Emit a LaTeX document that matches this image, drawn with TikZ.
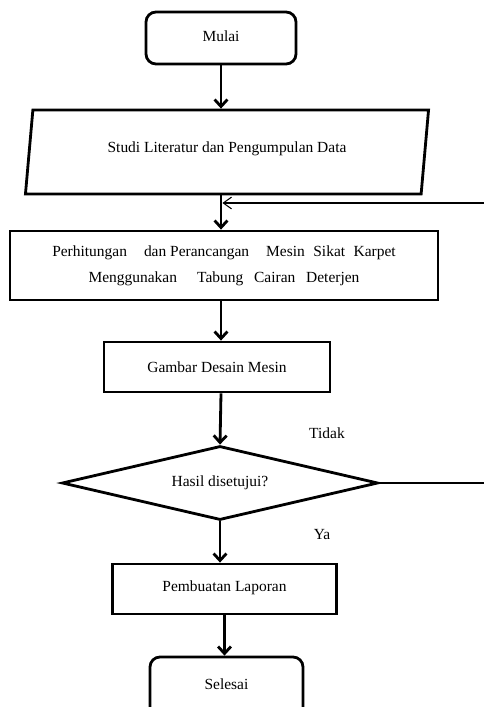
\documentclass[tikz,border=0pt]{standalone}
\usepackage{fontspec}
\setmainfont{Liberation Serif}
\usetikzlibrary{shapes.geometric,arrows.meta}
\begin{document}
\begin{tikzpicture}[x=0.03cm,y=-0.03cm,
  every node/.style={font=\fontsize{13.2}{22}\selectfont,inner sep=0pt},
  kotak/.style={draw,line width=2.4pt},
  mulus/.style={kotak,rounded corners=0.3cm},
  panah/.style={-{Straight Barb[length=6pt,width=11pt]},line width=2.4pt},
  tipis/.style={line width=0.9pt}]
\path[use as bounding box,clip] (0,0) rectangle (484,707);
\fill[white] (0,0) rectangle (484,707);
\node[mulus,minimum width=4.5cm,minimum height=1.56cm] (mulai) at (221,38) {\raisebox{0.09cm}{Mulai}};
\node[kotak,shape=trapezium,trapezium left angle=77.6,trapezium right angle=102.4,trapezium stretches=true,minimum width=12.12cm,minimum height=2.52cm] (studi) at (227,152) {\raisebox{0.3cm}{Studi Literatur dan Pengumpulan Data}};
\node[kotak,minimum width=12.84cm,minimum height=2.07cm,align=center] (hitung) at (224,265.5) {Perhitungan\hspace{1.1em}dan Perancangan\hspace{1.1em}Mesin\hspace{0.55em}Sikat\hspace{0.55em}Karpet\\Menggunakan\hspace{1.3em}Tabung\hspace{0.7em}Cairan\hspace{0.7em}Deterjen};
\node[kotak,minimum width=6.78cm,minimum height=1.5cm] (gambar) at (217,367) {Gambar Desain Mesin};
\node[kotak,shape=diamond,aspect=4.27,minimum width=9.48cm,minimum height=2.22cm] (cek) at (220,483) {\raisebox{0.06cm}{Hasil disetujui?}};
\node[kotak,minimum width=6.72cm,minimum height=1.5cm] (laporan) at (224.5,589) {\raisebox{0.15cm}{Pembuatan Laporan}};
\node[mulus,minimum width=4.59cm,minimum height=1.98cm] (selesai) at (226.5,690) {\raisebox{0.36cm}{Selesai}};
\node (tidak) at (327,433) {Tidak};
\node (ya) at (322,535) {Ya};
\coordinate (balik) at (484,203);
\coordinate (ujung) at (484,483);
\draw[panah] (mulai.south) -- (mulai.south |- studi.north);
\draw[panah] (mulai.south |- studi.south) -- (mulai.south |- hitung.north);
\draw[panah] (mulai.south |- hitung.south) -- (mulai.south |- gambar.north);
\draw[panah] (mulai.south |- gambar.south) -- (cek.north);
\draw[panah] (cek.south) -- (cek.south |- laporan.north);
\draw[panah] (laporan.south) -- (laporan.south |- selesai.north);
\draw[tipis,-{Straight Barb[length=7pt,width=10pt]}] (balik) -- ([xshift=1.2pt]balik -| mulai);
\draw[tipis] (cek.east) -- (ujung);
\end{tikzpicture}
\end{document}
